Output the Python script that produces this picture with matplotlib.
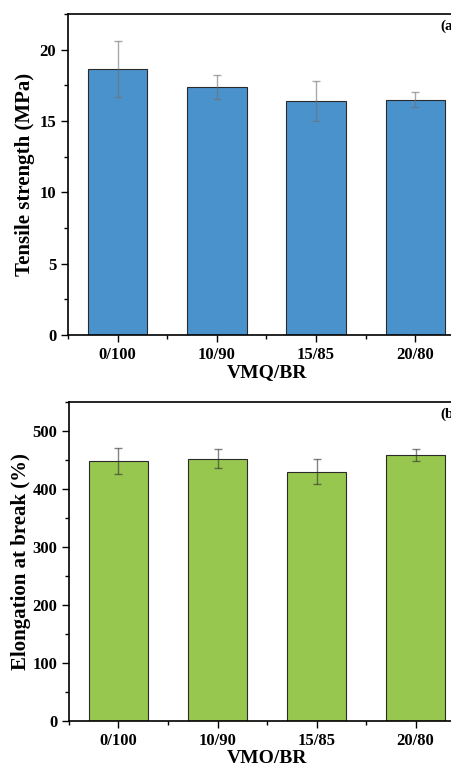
import matplotlib.pyplot as plt
from matplotlib.ticker import MultipleLocator

plt.rcParams['font.family'] = 'Liberation Serif'
plt.rcParams['font.weight'] = 'bold'

ratios = ['0/100', '10/90', '15/85', '20/80']
tensile = [18.65, 17.4, 16.4, 16.49]
tensile_err = [1.95, 0.85, 1.37, 0.52]
elong = [448, 452, 430, 459]
elong_err = [22, 16.5, 21.5, 10]

fig = plt.figure(figsize=(4.52, 7.68), dpi=100)
ax1 = fig.add_axes([68 / 452, 1 - 335 / 768, 397 / 452, 321 / 768])
ax2 = fig.add_axes([69 / 452, 1 - 721 / 768, 396 / 452, 319 / 768])

x = range(len(ratios))


def draw(ax, vals, errs, color, ecolor, ylabel, xlabel, tag, ymax, major, minor, lx):
    ax.bar(x, vals, width=0.6, color=color, edgecolor='#2a2a2a', linewidth=0.8)
    ax.errorbar(x, vals, yerr=errs, fmt='none', ecolor=ecolor, elinewidth=1,
                capsize=3, capthick=1, alpha=0.6)
    ax.set_xlim(-0.5, 3.5)
    ax.set_ylim(0, ymax)
    ax.set_xticks(list(x))
    ax.set_xticklabels(ratios)
    ax.xaxis.set_minor_locator(MultipleLocator(0.5))
    ax.yaxis.set_major_locator(MultipleLocator(major))
    ax.yaxis.set_minor_locator(MultipleLocator(minor))
    ax.tick_params(which='both', direction='out', top=False, right=False,
                   labelsize=12, width=1)
    ax.tick_params(which='major', length=5)
    ax.tick_params(which='minor', length=3)
    for lab in ax.get_xticklabels() + ax.get_yticklabels():
        lab.set_fontweight('bold')
    for s in ax.spines.values():
        s.set_linewidth(1.2)
    ax.set_ylabel(ylabel, fontsize=15, fontweight='bold')
    ax.yaxis.set_label_coords(lx, 0.5)
    ax.set_xlabel(xlabel, fontsize=14, fontweight='bold', labelpad=1)
    ax.text(0.937, 0.982, tag, transform=ax.transAxes, fontsize=11,
            fontweight='bold', ha='left', va='top')


draw(ax1, tensile, tensile_err, '#4a92cc', '#707070', 'Tensile strength (MPa)',
     'VMQ/BR', '(a)', 22.5, 5, 2.5, -0.083)
draw(ax2, elong, elong_err, '#97c74f', '#303030', 'Elongation at break (%)',
     'VMO/BR', '(b)', 550, 100, 50, -0.096)

fig.savefig('out.png', dpi=100)
